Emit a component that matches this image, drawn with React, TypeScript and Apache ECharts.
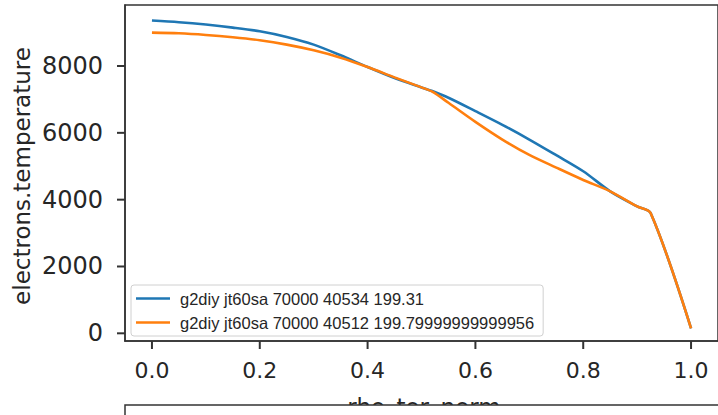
import React, { useEffect, useRef } from "react";
import * as echarts from "echarts";

const rho = [0, 0.05, 0.1, 0.15, 0.2, 0.25, 0.3, 0.35, 0.4, 0.45, 0.5, 0.52, 0.55, 0.6, 0.65, 0.7, 0.75, 0.8, 0.85, 0.9, 0.925, 1.0];
const teBlue = [9360, 9310, 9240, 9150, 9040, 8870, 8640, 8320, 7970, 7640, 7360, 7250, 7050, 6650, 6240, 5800, 5330, 4850, 4250, 3800, 3600, 150];
const teOrange = [9000, 8980, 8930, 8860, 8770, 8640, 8470, 8250, 7970, 7660, 7360, 7230, 6900, 6330, 5800, 5340, 4960, 4590, 4250, 3800, 3600, 150];
const seriesNames = [
  "g2diy jt60sa 70000 40534 199.31",
  "g2diy jt60sa 70000 40512 199.79999999999956",
];
const xTicks = [0, 0.2, 0.4, 0.6, 0.8, 1.0];
const yTicks = [0, 2000, 4000, 6000, 8000];
const xLabel = "rho_tor_norm";
const yLabel = "electrons.temperature";

const X_MIN = -0.05;
const X_MAX = 1.05;
const Y_MIN = -230;
const Y_MAX = 9826;

export default function App() {
  const ref = useRef<HTMLDivElement>(null);
  useEffect(() => {
    if (!ref.current) return;
    const chart = echarts.init(ref.current, undefined, { renderer: "svg" });
    const font = "DejaVu Sans";
    const tickColor = "#262626";
    const spineColor = "#333333";
    const spine = { color: spineColor, width: 1.5 };
    const TICK = 8;
    chart.setOption({
      animation: false,
      backgroundColor: "#ffffff",
      grid: {
        left: 125,
        top: 5,
        width: 598,
        height: 336,
        show: true,
        borderColor: spineColor,
        borderWidth: 1.5,
        backgroundColor: "transparent",
      },
      xAxis: {
        type: "value",
        min: X_MIN,
        max: X_MAX,
        axisLine: { show: true, onZero: false, lineStyle: spine },
        splitLine: { show: false },
        axisTick: { show: false },
        axisLabel: {
          customValues: xTicks,
          formatter: (v: number) => v.toFixed(1),
          fontFamily: font,
          fontSize: 22,
          color: tickColor,
          margin: 18,
        },
      },
      yAxis: {
        type: "value",
        min: Y_MIN,
        max: Y_MAX,
        axisLine: { show: true, onZero: false, lineStyle: spine },
        splitLine: { show: false },
        axisTick: { show: false },
        axisLabel: {
          customValues: yTicks,
          formatter: (v: number) => String(Math.round(v)),
          fontFamily: font,
          fontSize: 24,
          color: tickColor,
          margin: 22,
        },
      },
      legend: {
        orient: "vertical",
        left: 131,
        top: 285,
        data: seriesNames,
        icon: "rect",
        itemWidth: 34,
        itemHeight: 2.5,
        itemGap: 7,
        padding: [5, 9, 5, 5],
        backgroundColor: "rgba(255,255,255,0.85)",
        borderColor: "#d0d0d0",
        borderWidth: 1,
        borderRadius: 3,
        textStyle: {
          fontFamily: "Liberation Sans",
          fontSize: 16.5,
          color: "#262626",
          padding: [0, 0, 0, 5],
        },
      },
      series: [
        {
          name: seriesNames[0],
          type: "line",
          data: rho.map((r, i) => [r, teBlue[i]]),
          showSymbol: false,
          smooth: 0.3,
          lineStyle: { color: "#1f77b4", width: 2.6 },
          itemStyle: { color: "#1f77b4" },
        },
        {
          name: seriesNames[1],
          type: "line",
          data: rho.map((r, i) => [r, teOrange[i]]),
          showSymbol: false,
          smooth: 0.3,
          lineStyle: { color: "#ff7f0e", width: 2.6 },
          itemStyle: { color: "#ff7f0e" },
        },
        {
          name: "xticks",
          type: "scatter",
          silent: true,
          clip: false,
          symbol: "rect",
          symbolSize: [2, TICK],
          symbolOffset: [0, TICK / 2],
          itemStyle: { color: spineColor, opacity: 1 },
          data: xTicks.map((v) => [v, Y_MIN]),
          z: 10,
        },
        {
          name: "yticks",
          type: "scatter",
          silent: true,
          clip: false,
          symbol: "rect",
          symbolSize: [TICK, 2],
          symbolOffset: [-TICK / 2, 0],
          itemStyle: { color: spineColor, opacity: 1 },
          data: yTicks.map((v) => [X_MIN, v]),
          z: 10,
        },
      ],
      graphic: [
        {
          type: "text",
          x: 22,
          y: 176,
          rotation: Math.PI / 2,
          style: {
            text: yLabel,
            fontFamily: font,
            fontSize: 23,
            fill: tickColor,
            align: "center",
            verticalAlign: "middle",
          },
        },
        {
          type: "text",
          x: 424,
          y: 395,
          style: {
            text: xLabel,
            fontFamily: font,
            fontSize: 23,
            fill: tickColor,
            align: "center",
            verticalAlign: "top",
          },
        },
        {
          type: "rect",
          shape: { x: 125, y: 405, width: 640, height: 40 },
          style: { fill: "#ffffff", stroke: spineColor, lineWidth: 1.5 },
          z: 100,
        },
      ],
    });
    return () => chart.dispose();
  }, []);
  return (
    <div
      ref={ref}
      style={{ position: "fixed", left: 0, top: 0, width: 718, height: 415 }}
    />
  );
}
